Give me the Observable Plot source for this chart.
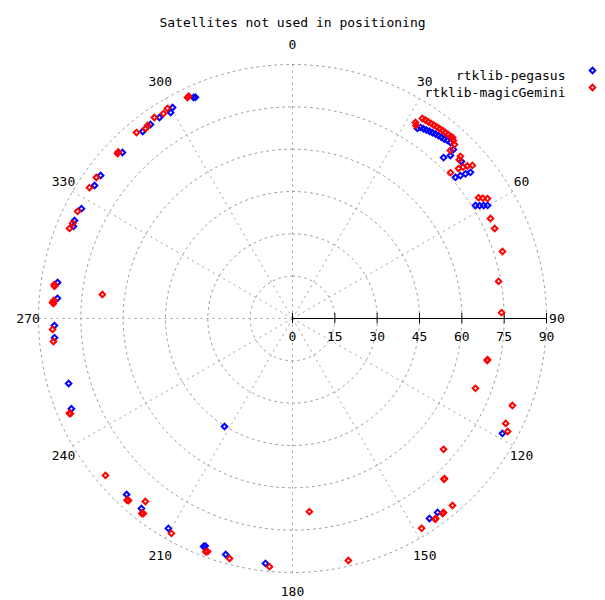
<!DOCTYPE html>
<html><head><meta charset="utf-8">
<script src="https://cdn.jsdelivr.net/npm/d3@7"></script>
<script src="https://cdn.jsdelivr.net/npm/@observablehq/plot@0.6"></script>
<style>body{margin:0;background:#fff}</style>
</head><body><div id="chart"></div>
<script>
const title = "Satellites not used in positioning";
const seriesNames = ["rtklib-pegasus", "rtklib-magicGemini"];
const seriesColors = ["#0000ff", "#ff0000"];
const radialTicks = [0, 15, 30, 45, 60, 75, 90];
const angleTicks = [0, 30, 60, 90, 120, 150, 180, 210, 240, 270, 300, 330];
const angleTickLabels = ["0", "30", "60", "90", "120", "150", "180", "210", "240", "270", "330", "300"];

// [azimuth (deg, clockwise from top), radius]
const pegasus = [
  [33.3,80.6],[33.8,81.5],[34.6,81.7],[35.4,81.9],[36.2,82.2],[37.0,82.4],[37.8,82.7],[38.6,82.9],[39.4,83.1],[40.2,83.3],[41.0,83.6],[41.9,83.8],
  [43.6,82.7],[43.2,78.2],[44.1,80.4],[47.1,81.7],
  [49.1,76.4],[49.6,78.1],[50.1,79.9],[50.6,81.6],
  [58.3,76.2],[58.9,77.4],[59.4,78.7],[59.9,79.9],
  [118.7,84.8],[143.2,85.8],[145.6,85.9],
  [186.3,87.3],[195.8,86.9],[201.3,86.7],[201.0,86.3],[210.6,86.4],[218.5,86.0],[223.3,85.7],[212.2,45.2],
  [247.8,84.6],[253.8,82.6],[265.4,84.6],[268.3,84.4],[274.9,83.6],[278.7,84.2],
  [292.8,84.2],[294.2,84.7],[297.5,84.3],[303.9,84.5],[306.7,84.8],[314.3,84.2],[321.3,84.9],[323.8,85.2],[326.5,85.4],[329.4,84.8],[330.4,86.0],[335.9,85.8],[336.3,85.6]
];
const magicGemini = [
  [32.1,82.0],[32.6,81.2],[33.0,84.5],[33.8,84.6],[34.6,84.7],[35.4,84.8],[36.2,84.9],[37.0,85.0],[37.8,85.1],[38.6,85.2],[39.4,85.3],[40.2,85.4],[41.0,85.5],[41.5,85.6],
  [42.1,85.0],[42.96,84.2],[43.2,81.7],[46.0,82.7],[46.4,81.6],[47.3,76.2],[47.9,79.3],[48.4,80.8],[48.9,82.2],[49.6,83.7],
  [57.0,78.6],[57.7,79.8],[58.4,81.1],
  [63.2,78.6],[66.0,78.4],[72.3,78.1],[79.8,74.2],[88.4,74.1],
  [101.9,70.6],[102.2,70.6],[110.9,69.4],[111.6,83.8],[116.2,84.2],[117.7,86.1],[130.9,70.8],[136.5,78.2],[136.7,78.3],
  [139.45,87.2],[142.1,87.1],[142.4,87.2],[144.4,87.1],[144.6,87.3],[148.4,87.3],[167.0,88.0],[175.0,68.7],
  [185.3,88.3],[194.7,87.9],[200.0,87.9],[200.4,88.2],[209.4,87.4],[217.4,87.0],[217.7,87.3],[218.8,83.2],[222.0,86.8],[222.3,87.1],[230.0,86.5],
  [246.8,85.6],[247.0,85.9],[264.5,85.1],[267.4,85.1],[273.6,84.9],[273.9,85.2],[274.3,84.8],[277.7,85.1],[278.1,85.3],[277.2,67.9],
  [292.0,85.2],[293.4,84.9],[296.5,85.1],[302.8,85.6],[305.7,85.6],[313.3,85.2],[313.7,85.4],[320.0,86.0],[322.3,85.1],[323.1,85.5],[325.5,86.4],[327.8,85.8],[329.2,86.6],[334.6,86.7],[335.0,86.9]
];

const rad = Math.PI / 180;
const px = (a, r) => r * Math.sin(a * rad);
const py = (a, r) => r * Math.cos(a * rad);
const FONT = "DejaVu Sans Mono";
const GRID = "#a0a0a0";
const MARK = {symbol: "diamond2", r: 2.5, strokeWidth: 2, fill: "none"};

const circlePts = radialTicks.slice(1).flatMap(r => d3.range(0, 361, 2).map(a => ({r, a})));

const legendMarks = seriesNames.flatMap((name, i) => [
  Plot.text([name], {frameAnchor: "top-right", dx: 19, dy: 6 + 17 * i, textAnchor: "end", fontSize: 13, fontFamily: FONT, fill: "black"}),
  Plot.dot([name], {frameAnchor: "top-right", dx: 46, dy: 6 + 17 * i, ...MARK, stroke: seriesColors[i]})
]);

const chart = Plot.plot({
  width: 605,
  height: 600,
  marginLeft: 38,
  marginRight: 59,
  marginTop: 64,
  marginBottom: 28,
  x: {domain: [-90, 90], axis: null},
  y: {domain: [-90, 90], axis: null},
  style: {fontFamily: FONT, background: "white"},
  marks: [
    Plot.line(circlePts, {x: d => px(d.a, d.r), y: d => py(d.a, d.r), z: "r", stroke: GRID, strokeWidth: 1, strokeDasharray: "2,4"}),
    Plot.link(angleTicks, {x1: 0, y1: 0, x2: a => px(a, 90), y2: a => py(a, 90), stroke: GRID, strokeWidth: 1, strokeDasharray: "2,4"}),
    Plot.ruleY([0], {x1: 0, x2: 90, stroke: "black", strokeWidth: 1}),
    Plot.ruleX(radialTicks, {x: d => d, y1: -1.8, y2: 1.8, stroke: "black", strokeWidth: 1}),
    Plot.text(radialTicks, {x: d => d, y: 0, dy: 18, text: d => String(d), fontSize: 13, fontFamily: FONT, fill: "black"}),
    Plot.text(angleTicks, {x: a => px(a, 93.7), y: a => py(a, 97), text: (a, i) => angleTickLabels[i], fontSize: 13, fontFamily: FONT, fill: "black"}),
    Plot.dot(pegasus, {x: d => px(d[0], d[1]), y: d => py(d[0], d[1]), ...MARK, stroke: seriesColors[0]}),
    Plot.dot(magicGemini, {x: d => px(d[0], d[1]), y: d => py(d[0], d[1]), ...MARK, stroke: seriesColors[1]}),
    Plot.text([title], {frameAnchor: "top", dy: -47, fontSize: 13, fontFamily: FONT, fill: "black"}),
    ...legendMarks
  ]
});
document.getElementById("chart").appendChild(chart);
</script>
</body></html>
